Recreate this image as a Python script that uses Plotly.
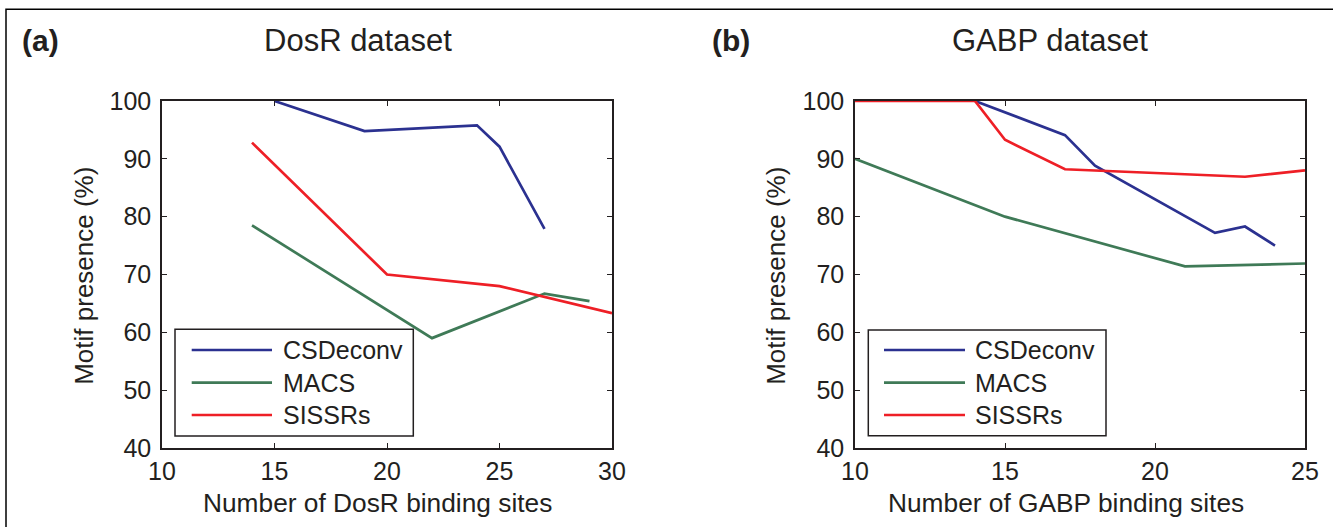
import plotly.graph_objects as go

W, H = 1333, 527

# ---------------- data ----------------
series_names = ["CSDeconv", "MACS", "SISSRs"]
series_colors = ["#2b3190", "#3f7a57", "#ee1f26"]

# (a) DosR dataset
dosr_csdeconv_x = [15, 19, 24, 25, 27]
dosr_csdeconv_y = [100, 94.8, 95.8, 92.1, 77.9]
dosr_macs_x = [14, 22, 27, 29]
dosr_macs_y = [78.5, 59.0, 66.7, 65.4]
dosr_sissrs_x = [14, 20, 25, 30]
dosr_sissrs_y = [92.8, 70.0, 68.0, 63.3]

# (b) GABP dataset
gabp_csdeconv_x = [14, 17, 18, 22, 23, 24]
gabp_csdeconv_y = [100, 94.1, 88.8, 77.2, 78.3, 75.0]
gabp_macs_x = [10, 15, 21, 25]
gabp_macs_y = [90, 80, 71.4, 71.9]
gabp_sissrs_x = [10, 14, 15, 17, 23, 25]
gabp_sissrs_y = [100, 100, 93.3, 88.2, 86.9, 88.0]

y_ticks = [40, 50, 60, 70, 80, 90, 100]
dosr_x_ticks = [10, 15, 20, 25, 30]
gabp_x_ticks = [10, 15, 20, 25]

panel_labels = ["(a)", "(b)"]
panel_titles = ["DosR dataset", "GABP dataset"]
x_titles = ["Number of DosR binding sites", "Number of GABP binding sites"]
y_title = "Motif presence (%)"

# ---------------- helpers ----------------
def PX(x):
    return x / W

def PY(y):
    return 1 - y / H

FONT = "Liberation Sans, Arial, Helvetica, sans-serif"
INK = "#231f20"

fig = go.Figure()

panels = [
    ("x", "y", [(dosr_csdeconv_x, dosr_csdeconv_y), (dosr_macs_x, dosr_macs_y), (dosr_sissrs_x, dosr_sissrs_y)]),
    ("x2", "y2", [(gabp_csdeconv_x, gabp_csdeconv_y), (gabp_macs_x, gabp_macs_y), (gabp_sissrs_x, gabp_sissrs_y)]),
]
for xa, ya, data in panels:
    for (xs, ys), name, col in zip(data, series_names, series_colors):
        fig.add_trace(go.Scatter(x=xs, y=ys, mode="lines", name=name,
                                 line=dict(color=col, width=2.7),
                                 xaxis=xa, yaxis=ya, showlegend=False,
                                 hoverinfo="x+y+name"))

axis_common = dict(showline=True, linecolor=INK, linewidth=1.5, mirror="ticks",
                   ticks="inside", ticklen=5, tickwidth=1, tickcolor=INK,
                   showgrid=False, zeroline=False, automargin=False,
                   tickfont=dict(family=FONT, size=25, color=INK))

y0, y1 = PY(448), PY(101)
fig.update_layout(
    template="none",
    width=W, height=H, autosize=False,
    margin=dict(l=0, r=0, t=0, b=0, pad=0),
    paper_bgcolor="white", plot_bgcolor="white",
    showlegend=False,
    xaxis=dict(domain=[PX(162), PX(612)], range=[10, 30], tickvals=dosr_x_ticks,
               anchor="y", **axis_common),
    yaxis=dict(domain=[y0, y1], range=[40, 100], tickvals=y_ticks,
               anchor="x", ticklabelstandoff=4, **axis_common),
    xaxis2=dict(domain=[PX(855), PX(1305)], range=[10, 25], tickvals=gabp_x_ticks,
                anchor="y2", **axis_common),
    yaxis2=dict(domain=[y0, y1], range=[40, 100], tickvals=y_ticks,
                anchor="x2", ticklabelstandoff=4, **axis_common),
)

shapes = []
annotations = []

# outer frame (top and left edges visible)
shapes.append(dict(type="path", xref="paper", yref="paper",
                   path=f"M {PX(6)},{PY(527)} L {PX(6)},{PY(9.3)} L {PX(1333)},{PY(9.3)}",
                   line=dict(color="black", width=1.5)))

# panel labels and titles
label_x = [20, 710]
title_cx = [357.5, 1050]
xtitle_cx = [377.5, 1066]
ytitle_cx = [84, 776]
for i in range(2):
    annotations.append(dict(text=f"<b>{panel_labels[i]}</b>", xref="paper", yref="paper",
                            x=PX(label_x[i]), y=PY(40), xanchor="left", yanchor="middle",
                            showarrow=False, font=dict(family=FONT, size=30, color=INK)))
    annotations.append(dict(text=panel_titles[i], xref="paper", yref="paper",
                            x=PX(title_cx[i]), y=PY(40), xanchor="center", yanchor="middle",
                            showarrow=False, font=dict(family=FONT, size=31, color=INK)))
    annotations.append(dict(text=x_titles[i], xref="paper", yref="paper",
                            x=PX(xtitle_cx[i]), y=PY(503), xanchor="center", yanchor="middle",
                            showarrow=False, font=dict(family=FONT, size=26.3, color=INK)))
    annotations.append(dict(text=y_title, xref="paper", yref="paper", textangle=-90,
                            x=PX(ytitle_cx[i]), y=PY(275.8), xanchor="center", yanchor="middle",
                            showarrow=False, font=dict(family=FONT, size=26, color=INK)))

# custom legends
legend_boxes = [(175, 329.3, 413.3, 436), (868.3, 330, 1106, 435.7)]
legend_line_x = [(191.7, 272), (884, 965)]
legend_text_x = [280.7, 973.3]
legend_rows = [350, 382.7, 415]
for i in range(2):
    bx0, by0, bx1, by1 = legend_boxes[i]
    shapes.append(dict(type="rect", xref="paper", yref="paper",
                       x0=PX(bx0), x1=PX(bx1), y0=PY(by1), y1=PY(by0),
                       line=dict(color=INK, width=1.5), fillcolor="white", layer="above"))
    for name, col, ry in zip(series_names, series_colors, legend_rows):
        lx0, lx1 = legend_line_x[i]
        shapes.append(dict(type="line", xref="paper", yref="paper",
                           x0=PX(lx0), x1=PX(lx1), y0=PY(ry), y1=PY(ry),
                           line=dict(color=col, width=2.7), layer="above"))
        annotations.append(dict(text=name, xref="paper", yref="paper",
                                x=PX(legend_text_x[i]), y=PY(ry), xanchor="left", yanchor="middle",
                                showarrow=False, font=dict(family=FONT, size=25, color=INK)))

fig.update_layout(shapes=shapes, annotations=annotations)
fig.write_html("out.html",
               config={"displayModeBar": False},
               post_script="document.body.style.margin='0';document.body.style.overflow='hidden';")
